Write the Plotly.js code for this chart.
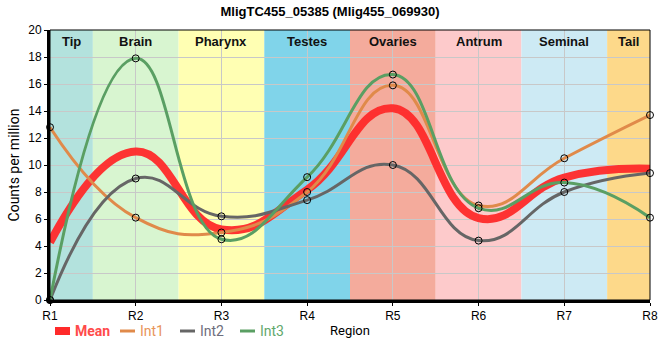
<!DOCTYPE html>
<html>
<head>
<meta charset="utf-8">
<script src="https://cdn.plot.ly/plotly-3.0.1.min.js"></script>
<style>html,body{margin:0;padding:0;background:#fff;}#chart{width:660px;height:360px;}</style>
</head>
<body>
<div id="chart"></div>
<script>
const regions = ["R1","R2","R3","R4","R5","R6","R7","R8"];
const int1 = [12.8, 6.1, 5.0, 8.0, 15.9, 7.0, 10.5, 13.7];
const int2 = [0.0, 9.0, 6.2, 7.4, 10.0, 4.4, 8.0, 9.4];
const int3 = [0.0, 17.9, 4.5, 9.1, 16.7, 6.8, 8.7, 6.1];
const meanVals = [4.27, 11.0, 5.23, 8.17, 14.2, 6.07, 9.07, 9.73];

const bandNames = ["Tip","Brain","Pharynx","Testes","Ovaries","Antrum","Seminal","Tail"];
const bandStart = [1, 1.5, 2.5, 3.5, 4.5, 5.5, 6.5, 7.5];
const bandEnd   = [1.5, 2.5, 3.5, 4.5, 5.5, 6.5, 7.5, 8];
const bandColors = ["#b3e2dd","#d8f5d0","#ffffb3","#80d4ea","#f4ab9c","#fdcacb","#cdeaf4","#fdd98a"];

const seriesNames = ["Mean","Int1","Int2","Int3"];
const seriesColors = ["#ff2a2a","#e08a4a","#666666","#5a9f63"];
const legendTextColors = ["#ff4b4b","#e8955a","#6e6e7c","#62a86c"];

const xs = regions.map((r,i)=>i+1);

function lineTrace(y, name, color, width, markers){
  return {
    x: xs, y: y, name: name, type: 'scatter',
    mode: markers ? 'lines+markers' : 'lines',
    line: {color: color, width: width, shape: 'spline', smoothing: 1.3},
    marker: {symbol: 'circle-open', color: '#000', size: 7, line: {width: 1, color:'#000'}},
    cliponaxis: false,
    showlegend: false,
    hoverinfo: 'x+y+name'
  };
}

const traces = [
  lineTrace(meanVals, "Mean", seriesColors[0], 8, false),
  lineTrace(int1, "Int1", seriesColors[1], 3, true),
  lineTrace(int2, "Int2", seriesColors[2], 3, true),
  lineTrace(int3, "Int3", seriesColors[3], 3, true)
];
traces[0].opacity = 0.95;

const shapes = [];
const annotations = [];
for (let i = 0; i < bandNames.length; i++) {
  shapes.push({type:'rect', xref:'x', yref:'paper', x0: bandStart[i], x1: bandEnd[i], y0:0, y1:1,
    fillcolor: bandColors[i], line:{width:0}, layer:'below'});
  annotations.push({xref:'x', yref:'paper', x:(bandStart[i]+bandEnd[i])/2, y:1, yanchor:'top', yshift:-2,
    text:'<b>'+bandNames[i]+'</b>', showarrow:false, font:{family:'Liberation Sans, Arial, sans-serif', size:13, color:'#111'}});
}
// plot frame (thin top/right)
shapes.push({type:'rect', xref:'paper', yref:'paper', x0:0, x1:1, y0:0, y1:1, line:{color:'#000', width:1}, layer:'above'});

// custom legend key (layout decoration)
const legX = [55, 120, 180, 240];
const legYpx = 331;
const plotL = 50, plotW = 600, plotT = 30, plotH = 270;
for (let i = 0; i < seriesNames.length; i++) {
  const x0 = (legX[i]-plotL)/plotW, x1 = (legX[i]+15-plotL)/plotW;
  const yc = (plotT+plotH-legYpx)/plotH;
  shapes.push({type:'line', xref:'paper', yref:'paper', x0:x0, x1:x1, y0:yc, y1:yc,
    line:{color: seriesColors[i], width: i===0 ? 8 : 3}});
  annotations.push({xref:'paper', yref:'paper', x:(legX[i]+18-plotL)/plotW, y:yc, xanchor:'left', yanchor:'middle',
    text: i===0 ? '<b>'+seriesNames[i]+'</b>' : seriesNames[i], showarrow:false,
    font:{family:'Roboto, Liberation Sans, sans-serif', size:14, color: legendTextColors[i]}});
}
annotations.push({xref:'paper', yref:'paper', x:0.5, y:(plotT+plotH-legYpx)/plotH, xanchor:'center', yanchor:'middle',
  text:'Region', showarrow:false, font:{family:'Roboto, Liberation Sans, sans-serif', size:13, color:'#000'}});

const layout = {
  width: 660, height: 360,
  margin: {l:50, r:10, t:30, b:60},
  paper_bgcolor: '#fff', plot_bgcolor: '#fff',
  title: {text: '<b>MligTC455_05385 (Mlig455_069930)</b>', x:0.5, xref:'container', y:1-11/360, yref:'container', yanchor:'middle',
    font:{family:'Liberation Sans, Arial, sans-serif', size:13, color:'#000'}},
  xaxis: {range:[1,8], tickvals: xs, ticktext: regions, showgrid:true, gridcolor:'#c8c8c8', gridwidth:1,
    showline:true, linecolor:'#000', linewidth:3, zeroline:false, ticks:'outside', ticklen:3, tickcolor:'#000',
    tickfont:{family:'Liberation Sans, Arial, sans-serif', size:12, color:'#000'}, fixedrange:true},
  yaxis: {range:[0,20], dtick:2, showgrid:true, gridcolor:'#c8c8c8', gridwidth:1,
    showline:true, linecolor:'#000', linewidth:3, zeroline:false, ticks:'outside', ticklen:3, tickcolor:'#000',
    tickfont:{family:'Liberation Sans, Arial, sans-serif', size:12, color:'#000'},
    title:{text:'Counts per million', standoff:6, font:{family:'Roboto, Liberation Sans, sans-serif', size:14, color:'#000'}}, fixedrange:true},
  shapes: shapes,
  annotations: annotations,
  showlegend: false
};

Plotly.newPlot('chart', traces, layout, {displayModeBar:false, staticPlot:true});
</script>
</body>
</html>
